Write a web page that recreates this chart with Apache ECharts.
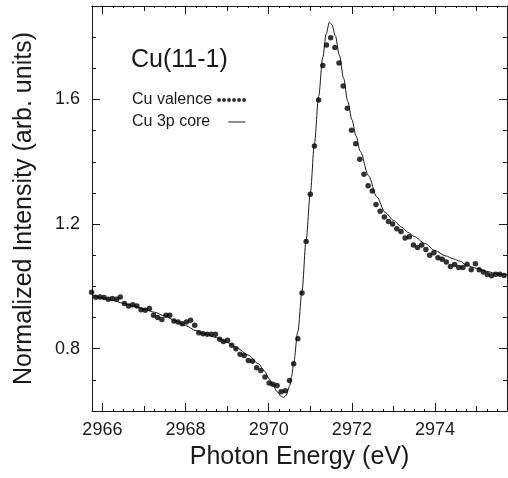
<!DOCTYPE html>
<html>
<head>
<meta charset="utf-8">
<script src="https://cdn.jsdelivr.net/npm/echarts@6/dist/echarts.min.js"></script>
<style>
html, body { margin: 0; padding: 0; background: #fff; }
#chart { width: 508px; height: 478px; }
</style>
</head>
<body>
<div id="chart"></div>
<script>
// Cu valence (dots)
const valenceEnergy = [
  2965.74, 2965.84, 2965.94, 2966.04, 2966.14, 2966.24, 2966.34, 2966.43, 2966.53, 2966.63,
  2966.73, 2966.83, 2966.93, 2967.03, 2967.13, 2967.23, 2967.33, 2967.43, 2967.53, 2967.62,
  2967.72, 2967.82, 2967.92, 2968.02, 2968.12, 2968.22, 2968.32, 2968.42, 2968.52, 2968.62,
  2968.72, 2968.82, 2968.91, 2969.01, 2969.11, 2969.21, 2969.31, 2969.41, 2969.51, 2969.61,
  2969.71, 2969.81, 2969.91, 2970.01, 2970.10, 2970.20, 2970.30, 2970.40, 2970.50, 2970.60,
  2970.70, 2970.80, 2970.90, 2971.00, 2971.10, 2971.20, 2971.30, 2971.39, 2971.49, 2971.59,
  2971.69, 2971.79, 2971.89, 2971.99, 2972.09, 2972.19, 2972.29, 2972.39, 2972.49, 2972.58,
  2972.68, 2972.78, 2972.88, 2972.98, 2973.08, 2973.18, 2973.28, 2973.38, 2973.48, 2973.58,
  2973.68, 2973.78, 2973.87, 2973.97, 2974.07, 2974.17, 2974.27, 2974.37, 2974.47, 2974.57,
  2974.67, 2974.77, 2974.87, 2974.97, 2975.06, 2975.16, 2975.26, 2975.36, 2975.46, 2975.56,
  2975.66
];
const valenceIntensity = [
  0.981, 0.965, 0.966, 0.964, 0.959, 0.961, 0.959, 0.966, 0.945, 0.937,
  0.941, 0.937, 0.925, 0.923, 0.929, 0.907, 0.900, 0.894, 0.907, 0.907,
  0.889, 0.886, 0.880, 0.886, 0.891, 0.875, 0.851, 0.848, 0.846, 0.846,
  0.846, 0.830, 0.823, 0.827, 0.811, 0.800, 0.782, 0.778, 0.762, 0.760,
  0.739, 0.730, 0.709, 0.690, 0.686, 0.682, 0.662, 0.665, 0.698, 0.752,
  0.832, 0.979, 1.144, 1.296, 1.451, 1.598, 1.709, 1.775, 1.798, 1.767,
  1.717, 1.643, 1.572, 1.501, 1.458, 1.408, 1.360, 1.323, 1.306, 1.263,
  1.241, 1.223, 1.208, 1.200, 1.185, 1.176, 1.155, 1.159, 1.133, 1.125,
  1.133, 1.118, 1.100, 1.108, 1.092, 1.087, 1.078, 1.064, 1.070, 1.061,
  1.061, 1.071, 1.053, 1.073, 1.053, 1.046, 1.038, 1.034, 1.039, 1.039,
  1.035
];

// Cu 3p core (solid line)
const coreEnergy = [
  2965.75, 2966.0, 2966.25, 2966.5, 2966.75, 2967.0, 2967.25, 2967.5, 2967.75, 2968.0,
  2968.25, 2968.5, 2968.75, 2969.0, 2969.25, 2969.5, 2969.75, 2969.9, 2970.0, 2970.1,
  2970.2, 2970.3, 2970.35, 2970.42, 2970.5, 2970.55, 2970.6, 2970.7, 2970.8, 2970.9,
  2971.0, 2971.1, 2971.2, 2971.3, 2971.38, 2971.46, 2971.52, 2971.6, 2971.7, 2971.8,
  2971.9, 2972.0, 2972.1, 2972.2, 2972.4, 2972.6, 2972.8, 2973.0, 2973.2, 2973.35,
  2973.5, 2973.75, 2974.0, 2974.25, 2974.45, 2974.6, 2974.75, 2975.0, 2975.25, 2975.5,
  2975.73
];
const coreIntensity = [
  0.973, 0.963, 0.955, 0.946, 0.937, 0.927, 0.917, 0.905, 0.890, 0.874,
  0.858, 0.846, 0.835, 0.820, 0.801, 0.780, 0.752, 0.728, 0.705, 0.684,
  0.662, 0.647, 0.643, 0.650, 0.680, 0.710, 0.755, 0.855, 0.985, 1.150,
  1.300, 1.460, 1.610, 1.735, 1.810, 1.848, 1.840, 1.805, 1.742, 1.668,
  1.594, 1.535, 1.483, 1.434, 1.355, 1.287, 1.237, 1.212, 1.190, 1.173,
  1.160, 1.138, 1.115, 1.098, 1.088, 1.081, 1.068, 1.058, 1.048, 1.040,
  1.037
];

const xLabelTicks = [2966, 2968, 2970, 2972, 2974];
const xMidTicks = [2967, 2969, 2971, 2973, 2975];
const yLabelTicks = [0.8, 1.2, 1.6];

const X_MIN = 2965.75;
const X_MAX = 2975.73;
const INK = "#1a1a1a";
const FONT = "Liberation Sans";

// small quarter-eV tick marks between the whole-eV ticks
const xSmallTicks = [];
for (let e = 2965; e <= 2975; e++) {
  [0.25, 0.5, 0.75].forEach((f) => {
    if (e + f > X_MIN && e + f < X_MAX) xSmallTicks.push(e + f);
  });
}

function zip(xs, ys) {
  return xs.map((x, i) => [x, ys[i]]);
}

function xAxisOf(position, ticks, len, main) {
  return {
    type: "value",
    position: position,
    min: X_MIN,
    max: X_MAX,
    splitLine: { show: false },
    axisLine: { show: main, lineStyle: { color: INK, width: 1 } },
    axisTick: {
      show: true,
      inside: true,
      length: len,
      customValues: ticks,
      lineStyle: { color: INK, width: 1 },
    },
    axisLabel: { show: false },
  };
}

function yAxisOf(position, len, main, ticks) {
  const axis = {
    type: "value",
    position: position,
    min: 0.6,
    max: 1.9,
    splitLine: { show: false },
    axisLine: { show: main, lineStyle: { color: INK, width: 1 } },
    axisTick: {
      show: true,
      inside: true,
      length: len,
      lineStyle: { color: INK, width: 1 },
    },
    axisLabel: { show: false },
  };
  if (ticks) {
    axis.axisTick.customValues = ticks;
  } else {
    axis.interval = 0.1;
  }
  return axis;
}

const chart = echarts.init(document.getElementById("chart"));

const bottomMain = xAxisOf("bottom", xLabelTicks, 8, true);
bottomMain.axisLabel = {
  show: true,
  customValues: xLabelTicks,
  margin: 10,
  fontFamily: FONT,
  fontSize: 18,
  color: INK,
  formatter: (v) => String(v),
};
bottomMain.name = "Photon Energy (eV)";
bottomMain.nameLocation = "middle";
bottomMain.nameGap = 34;
bottomMain.nameTextStyle = { fontFamily: FONT, fontSize: 25, color: INK };

const leftMain = yAxisOf("left", 8, true, yLabelTicks);
leftMain.axisLabel = {
  show: true,
  customValues: yLabelTicks,
  margin: 12,
  fontFamily: FONT,
  fontSize: 18,
  color: INK,
  formatter: (v) => v.toFixed(1),
};
leftMain.name = "Normalized Intensity (arb. units)";
leftMain.nameLocation = "middle";
leftMain.nameGap = 55;
leftMain.nameTextStyle = { fontFamily: FONT, fontSize: 25, color: INK };

const option = {
  backgroundColor: "#fff",
  animation: false,
  grid: { left: 92, right: 1, top: 6, bottom: 67 },
  title: {
    text: "Cu(11-1)",
    left: 131,
    top: 48,
    padding: 0,
    textStyle: { fontFamily: FONT, fontSize: 25, fontWeight: "normal", color: INK },
  },
  legend: [
    {
      data: ["Cu valence"],
      left: 132,
      top: 92,
      padding: 0,
      align: "right",
      selectedMode: false,
      itemWidth: 29,
      itemHeight: 4,
      icon: "path://M0,2a2,2 0 1,0 4,0a2,2 0 1,0 -4,0M5,2a2,2 0 1,0 4,0a2,2 0 1,0 -4,0M10,2a2,2 0 1,0 4,0a2,2 0 1,0 -4,0M15,2a2,2 0 1,0 4,0a2,2 0 1,0 -4,0M20,2a2,2 0 1,0 4,0a2,2 0 1,0 -4,0M25,2a2,2 0 1,0 4,0a2,2 0 1,0 -4,0",
      textStyle: { fontFamily: FONT, fontSize: 16, color: INK },
    },
    {
      data: ["Cu 3p core"],
      left: 132,
      top: 114,
      padding: 0,
      align: "right",
      selectedMode: false,
      itemWidth: 17,
      itemHeight: 1,
      icon: "rect",
      textStyle: { fontFamily: FONT, fontSize: 16, color: INK, padding: [0, 13, 0, 0] },
    },
  ],
  xAxis: [
    bottomMain,
    xAxisOf("bottom", xMidTicks, 5, false),
    xAxisOf("bottom", xSmallTicks, 2, false),
    xAxisOf("top", xLabelTicks, 8, true),
    xAxisOf("top", xMidTicks, 5, false),
    xAxisOf("top", xSmallTicks, 2, false),
  ],
  yAxis: [
    leftMain,
    yAxisOf("left", 4, false, null),
    yAxisOf("right", 8, true, yLabelTicks),
    yAxisOf("right", 4, false, null),
  ],
  series: [
    {
      name: "Cu 3p core",
      type: "line",
      data: zip(coreEnergy, coreIntensity),
      symbol: "none",
      smooth: 0.3,
      smoothMonotone: "x",
      lineStyle: { color: INK, width: 1 },
      itemStyle: { color: INK },
      z: 2,
    },
    {
      name: "Cu valence",
      type: "scatter",
      data: zip(valenceEnergy, valenceIntensity),
      symbol: "circle",
      symbolSize: 5.5,
      clip: false,
      itemStyle: { color: "#000" },
      z: 3,
    },
  ],
};

chart.setOption(option);
</script>
</body>
</html>
